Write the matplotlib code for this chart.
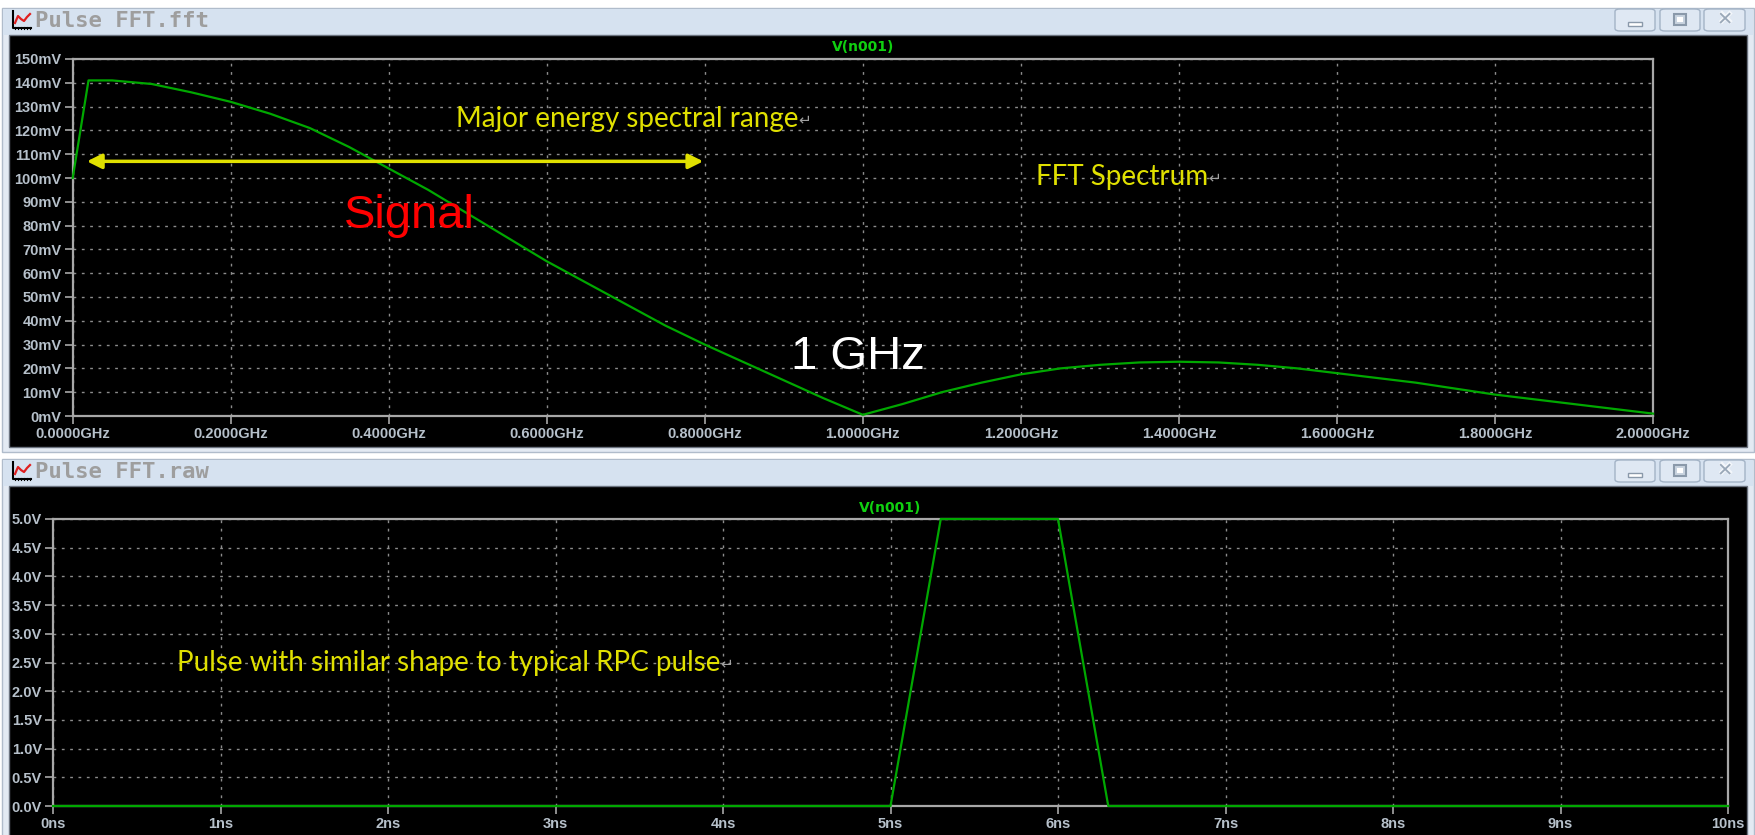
import matplotlib.pyplot as plt
import matplotlib.patches as mpatches
from matplotlib.lines import Line2D
from matplotlib.ticker import FuncFormatter, MultipleLocator

W, H = 1756, 835

# FFT magnitude of V(n001)
freq_ghz = [0, 0.02, 0.05, 0.1, 0.15, 0.2, 0.25, 0.3, 0.35, 0.4, 0.45, 0.5,
            0.55, 0.6, 0.65, 0.7, 0.75, 0.8, 0.85, 0.9, 0.95, 1.0, 1.05, 1.1,
            1.15, 1.2, 1.25, 1.3, 1.35, 1.4, 1.45, 1.5, 1.55, 1.6, 1.65, 1.7,
            1.75, 1.8, 1.85, 1.9, 1.95, 2.0]
mag_mv = [100, 141, 141, 139.5, 136, 132, 127, 121, 113, 104, 95, 85,
          75, 65, 56, 47, 38, 30, 22.5, 15, 7.5, 0.5, 5, 10,
          14, 17.5, 20, 21.5, 22.5, 22.8, 22.5, 21.5, 20, 18, 16, 14,
          11.5, 9, 7, 5, 3, 1]

# transient of the same node
time_ns = [0, 5.0, 5.3, 6.0, 6.3, 10]
volt_v = [0, 0, 5, 5, 0, 0]

# energy band marked on the spectrum
band_ghz = [0.018, 0.798]
band_mv = 107

GRID = '#8c8c8c'
AXIS = '#a8a8a8'
LABEL = '#b6c0ca'
TRACE = '#00a800'
YELLOW = '#e0e000'
BACK = -5

fig = plt.figure(figsize=(W / 100, H / 100), dpi=100, facecolor='white')


def fx(x):
    return x / W


def fy(y):
    return 1 - y / H


def box(x0, y0, x1, y1, **kw):
    r = mpatches.Rectangle((fx(x0), fy(y1)), (x1 - x0) / W, (y1 - y0) / H,
                           transform=fig.transFigure, zorder=BACK, **kw)
    fig.add_artist(r)
    return r


def line(xs, ys, **kw):
    fig.add_artist(Line2D([fx(v) for v in xs], [fy(v) for v in ys],
                          transform=fig.transFigure, zorder=BACK, **kw))


def button(x0, y0, x1, y1, kind):
    b = mpatches.FancyBboxPatch((fx(x0), fy(y1)), (x1 - x0) / W, (y1 - y0) / H,
                                boxstyle='round,pad=0,rounding_size=0.003',
                                transform=fig.transFigure, fc='#dfe8f3',
                                ec='#a3b3c6', lw=1, zorder=BACK)
    fig.add_artist(b)
    cx, cy = (x0 + x1) / 2, (y0 + y1) / 2
    if kind == 'min':
        box(cx - 7, cy + 2, cx + 7, cy + 6, fc='white', ec='#8a99aa', lw=1)
    elif kind == 'max':
        box(cx - 6, cy - 6, cx + 6, cy + 5, fc='#c9d4e0', ec='#8a99aa', lw=1.5)
        box(cx - 3, cy - 3, cx + 3, cy + 2, fc='white', ec='none')
    else:
        fig.text(fx(cx), fy(cy), '\u2716', color='#f4f7fb', fontsize=15,
                 ha='center', va='center')
        fig.text(fx(cx), fy(cy), '\u2715', color='#9aa8b8', fontsize=14,
                 ha='center', va='center')


def window(top, bottom, title):
    box(2, top, 1754, bottom, fc='#e3eaf3', ec='#b0bccb', lw=1)
    box(3, top + 1, 1753, top + 27, fc='#d6e2f0', ec='none')
    box(9, top + 27, 1747, bottom - 5, fc='black', ec='#6c7480', lw=1)
    # chart icon
    line([13, 13, 31], [top + 3, top + 20, top + 20], color='black', lw=1.5)
    for t in range(15, 31, 3):
        line([t, t], [top + 19, top + 21], color='black', lw=0.8)
    line([15, 18, 21, 24, 27, 30], [top + 15, top + 8, top + 11, top + 13, top + 9, top + 6],
         color='#e02020', lw=1.6)
    fig.text(fx(35), fy(top + 13), title, family='DejaVu Sans Mono', fontsize=16,
             fontweight='bold', color='#9e9e9e', ha='left', va='center')
    button(1615, top + 1, 1655, top + 23, 'min')
    button(1660, top + 1, 1700, top + 23, 'max')
    button(1704, top + 1, 1745, top + 23, 'close')


window(8, 452, 'Pulse FFT.fft')
window(459, 850, 'Pulse FFT.raw')


def style(ax):
    ax.set_facecolor('black')
    for s in ax.spines.values():
        s.set_color(AXIS)
        s.set_linewidth(1.6)
    ax.tick_params(direction='out', length=6, width=1.2, color=AXIS,
                   labelcolor=LABEL, labelsize=10.5, pad=2)
    for lab in ax.get_xticklabels() + ax.get_yticklabels():
        lab.set_fontweight('bold')
        lab.set_family('Liberation Sans')
    ax.grid(True, color=GRID, linestyle=(0, (2, 4)), linewidth=1)
    ax.set_axisbelow(True)


def note(ax, x, y, s):
    # yellow note pasted from a word processor, with its paragraph mark
    t = ax.text(x, y, s, color=YELLOW, family=['Lato', 'DejaVu Sans'],
                fontsize=20, ha='left', va='center')
    ax.annotate('\u21b5', xy=(1, 0.45), xycoords=t, color='#a0a0a0',
                fontsize=11, ha='left', va='center', family='DejaVu Sans')


# spectrum
ax1 = fig.add_axes([fx(72.7), fy(416), (1653 - 72.7) / W, (416 - 59) / H])
ax1.plot(freq_ghz, mag_mv, color=TRACE, lw=1.6, clip_on=False, zorder=3)
ax1.set_xlim(0, 2)
ax1.set_ylim(0, 150)
ax1.xaxis.set_major_locator(MultipleLocator(0.2))
ax1.yaxis.set_major_locator(MultipleLocator(10))
ax1.xaxis.set_major_formatter(FuncFormatter(lambda v, p: f'{v:.4f}GHz'))
ax1.yaxis.set_major_formatter(FuncFormatter(lambda v, p: f'{v:.0f}mV'))
style(ax1)
ax1.text(0.5, 1.015, 'V(n001)', transform=ax1.transAxes, color='#10d010',
         fontsize=10, fontweight='bold', ha='center', va='bottom')

ax1.annotate('', xy=(band_ghz[0], band_mv), xytext=(band_ghz[1], band_mv),
             arrowprops=dict(arrowstyle='<|-|>', color=YELLOW, lw=2.5,
                             mutation_scale=22, shrinkA=0, shrinkB=0))
note(ax1, 0.485, 124.8, 'Major energy spectral range')
note(ax1, 1.219, 100.4, 'FFT Spectrum')
ax1.text(0.343, 84, 'Signal', color='#ff0000', family='Liberation Sans',
         fontsize=34, ha='left', va='center')
ax1.text(0.909, 25, '1 GHz', color='white', family='Liberation Sans',
         fontsize=34, ha='left', va='center')

# time domain
ax2 = fig.add_axes([fx(53), fy(806), (1728 - 53) / W, (806 - 519) / H])
ax2.plot(time_ns, volt_v, color=TRACE, lw=1.6, clip_on=False, zorder=3)
ax2.set_xlim(0, 10)
ax2.set_ylim(0, 5)
ax2.xaxis.set_major_locator(MultipleLocator(1))
ax2.yaxis.set_major_locator(MultipleLocator(0.5))
ax2.xaxis.set_major_formatter(FuncFormatter(lambda v, p: f'{v:.0f}ns'))
ax2.yaxis.set_major_formatter(FuncFormatter(lambda v, p: f'{v:.1f}V'))
style(ax2)
ax2.text(0.5, 1.015, 'V(n001)', transform=ax2.transAxes, color='#10d010',
         fontsize=10, fontweight='bold', ha='center', va='bottom')
note(ax2, 0.74, 2.5, 'Pulse with similar shape to typical RPC pulse')

fig.savefig('out.png', dpi=100, facecolor='white')
